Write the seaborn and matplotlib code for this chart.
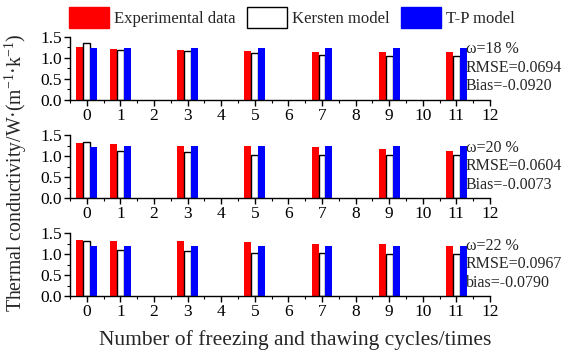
import matplotlib
matplotlib.use("Agg")
import matplotlib.pyplot as plt
from matplotlib.patches import Patch
from matplotlib.ticker import MultipleLocator
import seaborn as sns
import pandas as pd

# ---- data ----
cycles = [0, 1, 3, 5, 7, 9, 11]
series_names = ["Experimental data", "Kersten model", "T-P model"]

exp_18 = [1.25, 1.21, 1.18, 1.16, 1.13, 1.13, 1.13]
kersten_18 = [1.35, 1.17, 1.15, 1.11, 1.07, 1.04, 1.04]
tp_18 = [1.22, 1.24, 1.24, 1.23, 1.24, 1.24, 1.24]

exp_20 = [1.31, 1.29, 1.25, 1.23, 1.21, 1.18, 1.13]
kersten_20 = [1.34, 1.13, 1.10, 1.03, 1.03, 1.03, 1.03]
tp_20 = [1.21, 1.23, 1.23, 1.23, 1.23, 1.23, 1.23]

exp_22 = [1.34, 1.32, 1.32, 1.28, 1.25, 1.23, 1.20]
kersten_22 = [1.32, 1.09, 1.08, 1.03, 1.03, 1.01, 1.01]
tp_22 = [1.19, 1.19, 1.19, 1.19, 1.19, 1.19, 1.19]

panel_labels = [
    "ω=18 %\nRMSE=0.0694\nBias=-0.0920",
    "ω=20 %\nRMSE=0.0604\nBias=-0.0073",
    "ω=22 %\nRMSE=0.0967\nbias=-0.0790",
]
x_tick_labels = [str(i) for i in range(13)]
y_ticks = [0.0, 0.5, 1.0, 1.5]

panels = [
    (exp_18, kersten_18, tp_18),
    (exp_20, kersten_20, tp_20),
    (exp_22, kersten_22, tp_22),
]

sns.set_style("ticks")
plt.rcParams["font.family"] = ["Liberation Serif", "DejaVu Serif"]
plt.rcParams["mathtext.fontset"] = "custom"
plt.rcParams["mathtext.rm"] = "Liberation Serif"
plt.rcParams["mathtext.default"] = "regular"

colors = ["#ff0000", "#ffffff", "#0000ff"]

fig = plt.figure(figsize=(5.66, 3.55), dpi=100)
left, width = 0.1237, 0.742
bottoms = [0.7197, 0.4423, 0.1662]
height = 0.177

for i, (vals, label) in enumerate(zip(panels, panel_labels)):
    ax = fig.add_axes([left, bottoms[i], width, height])
    rows = []
    for name, v in zip(series_names, vals):
        for c, y in zip(cycles, v):
            rows.append({"cycle": c, "value": y, "series": name})
    df = pd.DataFrame(rows)
    sns.barplot(data=df, x="cycle", y="value", hue="series",
                hue_order=series_names, palette=colors, native_scale=True,
                width=0.62, gap=0, errorbar=None, legend=False, ax=ax,
                linewidth=0, saturation=1)
    n = len(cycles)
    for j, p in enumerate(ax.patches):
        if n <= j < 2 * n:
            p.set_edgecolor("black")
            p.set_linewidth(1.0)
        else:
            p.set_edgecolor(p.get_facecolor())
            p.set_linewidth(0)
    ax.set_xlim(-0.5, 12)
    ax.set_ylim(0, 1.5)
    ax.set_xticks(range(13))
    ax.set_xticklabels(x_tick_labels)
    ax.xaxis.set_minor_locator(MultipleLocator(0.5))
    ax.set_yticks(y_ticks)
    ax.set_yticklabels([f"{t:.1f}" for t in y_ticks])
    ax.yaxis.set_minor_locator(MultipleLocator(0.25))
    ax.tick_params(axis="both", which="major", direction="out", length=4,
                   width=1, labelsize=12.5, pad=2, colors="black")
    ax.tick_params(axis="both", which="minor", direction="out", length=2,
                   width=0.8, colors="black")
    ax.set_xlabel("")
    ax.set_ylabel("")
    for s in ["top", "right"]:
        ax.spines[s].set_visible(False)
    for s in ["left", "bottom"]:
        ax.spines[s].set_color("black")
        ax.spines[s].set_linewidth(1.0)
    ax.text(0.943, 0.93, label, transform=ax.transAxes, ha="left", va="top",
            fontsize=11.5, linespacing=1.22, clip_on=False)

fig.text(0.521, 0.042, "Number of freezing and thawing cycles/times",
         ha="center", va="center", fontsize=15.5)
fig.text(0.028, 0.513, r"Thermal conductivity/W·(m$^{-1}$·k$^{-1}$)",
         ha="center", va="center", rotation=90, fontsize=14.2)

handles = [Patch(facecolor=colors[0], edgecolor=colors[0]),
           Patch(facecolor=colors[1], edgecolor="black", linewidth=1),
           Patch(facecolor=colors[2], edgecolor=colors[2])]
fig.legend(handles, series_names, loc="center", ncol=3,
           bbox_to_anchor=(0.516, 0.951), frameon=False, fontsize=12,
           handlelength=2.4, handleheight=1.5, handletextpad=0.3,
           columnspacing=0.7, borderpad=0, borderaxespad=0)

fig.savefig("out.png", dpi=100)
